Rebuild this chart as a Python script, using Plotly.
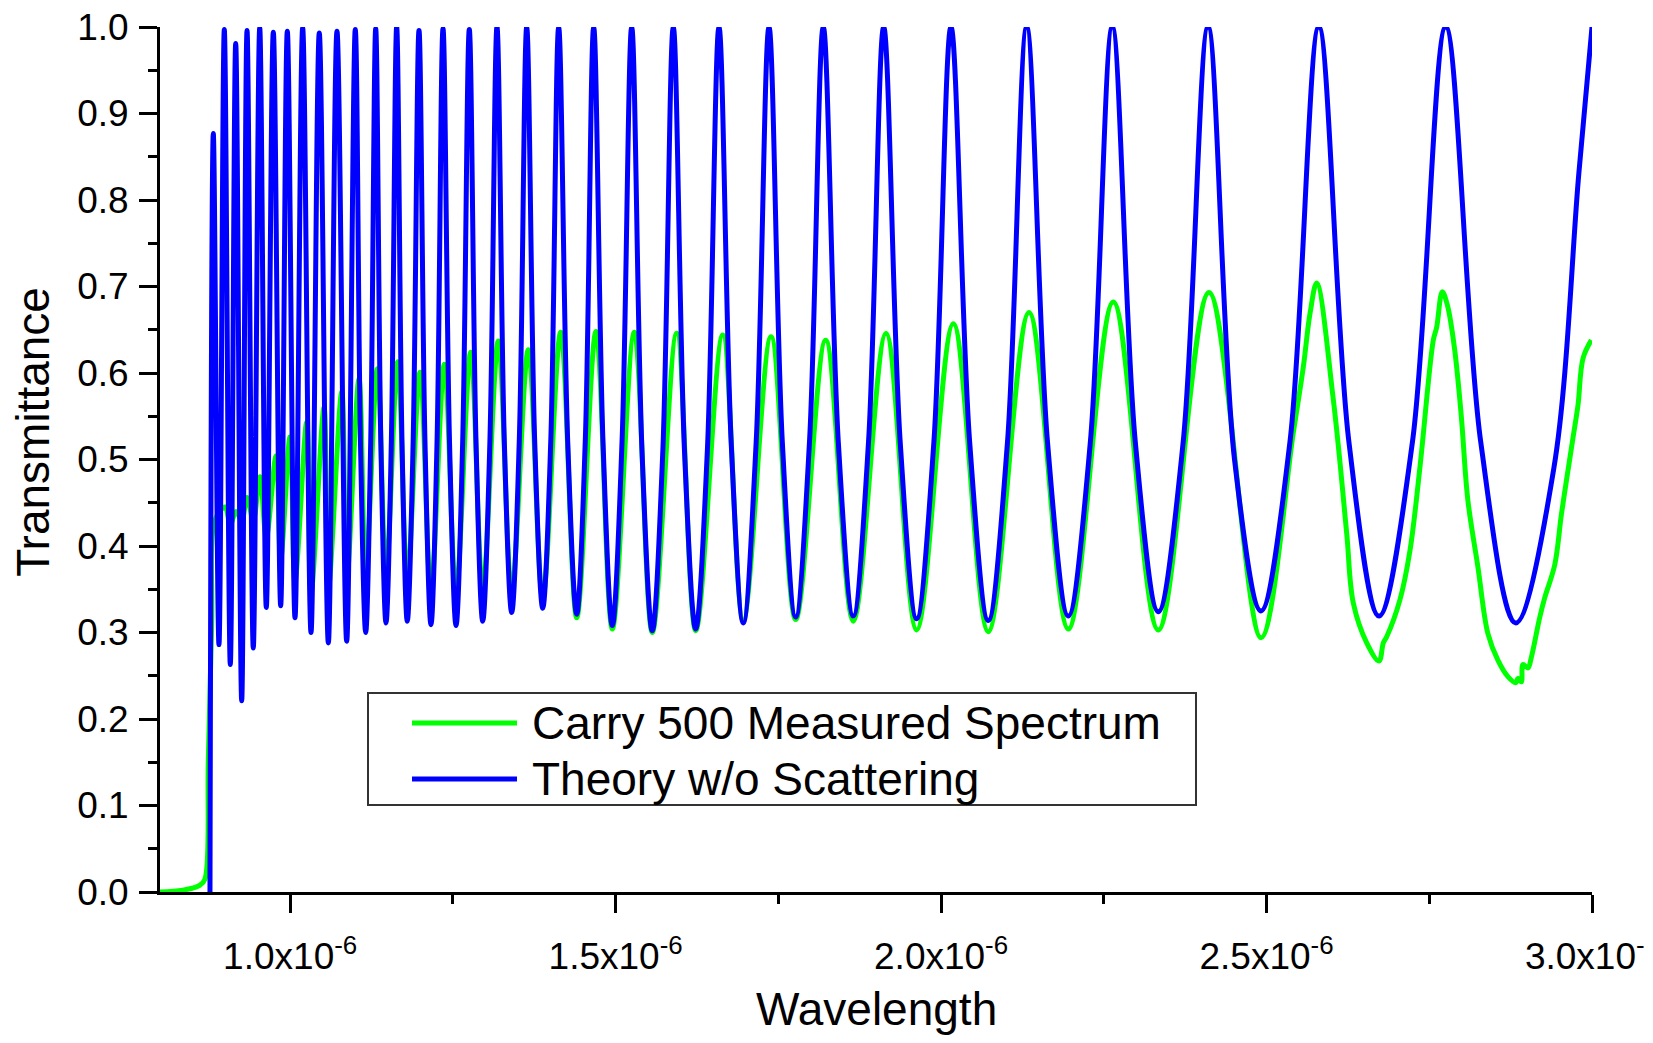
import plotly.graph_objects as go

# ---------------- data (wavelength in metres, transmittance 0..1) ----------------
measured_wavelength = [
    0.8000e-6, 0.8350e-6, 0.8615e-6, 0.8691e-6, 0.8742e-6, 0.8794e-6, 0.8845e-6,
    0.8999e-6, 0.9080e-6, 0.9168e-6, 0.9255e-6, 0.9337e-6, 0.9433e-6, 0.9536e-6,
    0.9633e-6, 0.9782e-6, 0.9854e-6, 0.9997e-6, 1.0074e-6, 1.0254e-6, 1.0320e-6,
    1.0520e-6, 1.0586e-6, 1.0792e-6, 1.0868e-6, 1.1057e-6, 1.1160e-6, 1.1339e-6,
    1.1472e-6, 1.1652e-6, 1.1799e-6, 1.1995e-6, 1.2163e-6, 1.2368e-6, 1.2548e-6,
    1.2773e-6, 1.2958e-6, 1.3197e-6, 1.3403e-6, 1.3658e-6, 1.3880e-6, 1.4156e-6,
    1.4402e-6, 1.4698e-6, 1.4949e-6, 1.5287e-6, 1.5563e-6, 1.5938e-6, 1.6230e-6,
    1.6645e-6, 1.6961e-6, 1.7387e-6, 1.7766e-6, 1.8227e-6, 1.8651e-6, 1.9154e-6,
    1.9625e-6, 2.0188e-6, 2.0725e-6, 2.1351e-6, 2.1955e-6, 2.2646e-6, 2.3337e-6,
    2.4116e-6, 2.4915e-6, 2.5411e-6, 2.5565e-6, 2.5668e-6, 2.5771e-6, 2.6026e-6,
    2.6231e-6, 2.6333e-6, 2.6539e-6, 2.6728e-6, 2.6794e-6, 2.6846e-6, 2.7050e-6,
    2.7204e-6, 2.7358e-6, 2.7562e-6, 2.7614e-6, 2.7700e-6, 2.7783e-6, 2.7890e-6,
    2.7992e-6, 2.8093e-6, 2.8247e-6, 2.8400e-6, 2.8554e-6, 2.8708e-6, 2.8828e-6,
    2.8862e-6, 2.8914e-6, 2.8939e-6, 2.9016e-6, 2.9067e-6, 2.9196e-6, 2.9273e-6,
    2.9427e-6, 2.9529e-6, 2.9606e-6, 2.9708e-6, 2.9785e-6, 2.9862e-6, 2.9990e-6,
]
measured_transmittance = [
    0.000, 0.002, 0.008, 0.015, 0.152, 0.310, 0.430,
    0.445, 0.425, 0.440, 0.430, 0.456, 0.430, 0.480,
    0.410, 0.504, 0.385, 0.526, 0.360, 0.543, 0.345,
    0.560, 0.350, 0.578, 0.360, 0.593, 0.370, 0.605,
    0.370, 0.613, 0.363, 0.601, 0.348, 0.610, 0.348,
    0.624, 0.350, 0.637, 0.348, 0.627, 0.340, 0.647,
    0.317, 0.648, 0.304, 0.647, 0.300, 0.646, 0.302,
    0.644, 0.314, 0.642, 0.315, 0.638, 0.313, 0.646,
    0.303, 0.657, 0.301, 0.670, 0.304, 0.682, 0.303,
    0.693, 0.294, 0.531, 0.607, 0.669, 0.704, 0.569,
    0.415, 0.334, 0.288, 0.267, 0.288, 0.295, 0.338,
    0.395, 0.492, 0.638, 0.653, 0.694, 0.677, 0.627,
    0.550, 0.453, 0.376, 0.299, 0.268, 0.249, 0.242,
    0.247, 0.243, 0.263, 0.259, 0.271, 0.317, 0.340,
    0.378, 0.436, 0.475, 0.525, 0.563, 0.617, 0.638,
]

theory_wavelength = [
    0.8768e-6, 0.8819e-6, 0.8906e-6, 0.8988e-6, 0.9080e-6, 0.9163e-6, 0.9255e-6,
    0.9337e-6, 0.9433e-6, 0.9532e-6, 0.9633e-6, 0.9741e-6, 0.9854e-6, 0.9956e-6,
    1.0074e-6, 1.0192e-6, 1.0320e-6, 1.0447e-6, 1.0586e-6, 1.0719e-6, 1.0868e-6,
    1.1000e-6, 1.1080e-6, 1.1160e-6, 1.1237e-6, 1.1314e-6, 1.1393e-6, 1.1472e-6,
    1.1554e-6, 1.1636e-6, 1.1718e-6, 1.1799e-6, 1.1889e-6, 1.1979e-6, 1.2071e-6,
    1.2163e-6, 1.2256e-6, 1.2348e-6, 1.2448e-6, 1.2548e-6, 1.2650e-6, 1.2752e-6,
    1.2855e-6, 1.2958e-6, 1.3068e-6, 1.3177e-6, 1.3290e-6, 1.3403e-6, 1.3519e-6,
    1.3634e-6, 1.3757e-6, 1.3880e-6, 1.4003e-6, 1.4125e-6, 1.4264e-6, 1.4402e-6,
    1.4533e-6, 1.4663e-6, 1.4806e-6, 1.4949e-6, 1.5098e-6, 1.5247e-6, 1.5405e-6,
    1.5563e-6, 1.5725e-6, 1.5886e-6, 1.6058e-6, 1.6230e-6, 1.6409e-6, 1.6588e-6,
    1.6775e-6, 1.6961e-6, 1.7159e-6, 1.7356e-6, 1.7561e-6, 1.7766e-6, 1.7978e-6,
    1.8190e-6, 1.8421e-6, 1.8651e-6, 1.8885e-6, 1.9118e-6, 1.9372e-6, 1.9625e-6,
    1.9889e-6, 2.0152e-6, 2.0439e-6, 2.0725e-6, 2.1020e-6, 2.1315e-6, 2.1635e-6,
    2.1955e-6, 2.2293e-6, 2.2630e-6, 2.2984e-6, 2.3337e-6, 2.3719e-6, 2.4101e-6,
    2.4508e-6, 2.4915e-6, 2.5359e-6, 2.5803e-6, 2.6266e-6, 2.6728e-6, 2.7241e-6,
    2.7753e-6, 2.8291e-6, 2.8828e-6, 2.9414e-6, 2.9797e-6, 3.0000e-6,
]
theory_transmittance = [
    0.000, 0.877, 0.286, 0.997, 0.263, 0.981, 0.221,
    0.996, 0.282, 0.999, 0.329, 0.994, 0.331, 0.995,
    0.317, 0.999, 0.300, 0.993, 0.288, 0.995, 0.290,
    0.997, 0.520, 0.300, 0.520, 0.998, 0.520, 0.311,
    0.520, 1.000, 0.520, 0.313, 0.520, 0.996, 0.520,
    0.309, 0.520, 0.998, 0.520, 0.308, 0.520, 0.997,
    0.520, 0.313, 0.520, 1.000, 0.520, 0.323, 0.520,
    1.000, 0.520, 0.328, 0.520, 1.000, 0.520, 0.321,
    0.520, 1.000, 0.520, 0.308, 0.520, 1.000, 0.510,
    0.302, 0.510, 1.000, 0.510, 0.304, 0.510, 1.000,
    0.520, 0.311, 0.520, 1.000, 0.520, 0.318, 0.520,
    1.000, 0.520, 0.319, 0.520, 1.000, 0.520, 0.316,
    0.520, 1.000, 0.520, 0.314, 0.520, 1.000, 0.520,
    0.319, 0.520, 1.000, 0.520, 0.324, 0.520, 1.000,
    0.500, 0.325, 0.520, 1.000, 0.520, 0.319, 0.520,
    1.000, 0.520, 0.311, 0.490, 0.830, 1.000,
]

series_names = ["Carry 500 Measured Spectrum", "Theory w/o Scattering"]
series_colors = ["#00FF00", "#0000FF"]

x_tick_values = [1.0e-6, 1.5e-6, 2.0e-6, 2.5e-6, 3.0e-6]
x_tick_labels = ["1.0x10<sup>-6</sup>", "1.5x10<sup>-6</sup>", "2.0x10<sup>-6</sup>",
                 "2.5x10<sup>-6</sup>", "3.0x10<sup>-6</sup>"]
x_minor_values = [1.25e-6, 1.75e-6, 2.25e-6, 2.75e-6]
x_title = "Wavelength"
y_title = "Transmittance"

FONT = "Liberation Sans, Arial, Helvetica, sans-serif"

fig = go.Figure()
fig.add_trace(go.Scatter(
    x=measured_wavelength, y=measured_transmittance, mode="lines",
    name=series_names[0], line=dict(color=series_colors[0], width=5, shape="spline", smoothing=1.0),
    showlegend=False,
))
fig.add_trace(go.Scatter(
    x=theory_wavelength, y=theory_transmittance, mode="lines",
    name=series_names[1], line=dict(color=series_colors[1], width=5, shape="spline", smoothing=1.0),
    showlegend=False,
))

axis_common = dict(
    showgrid=False, zeroline=False, showline=True, linecolor="black", linewidth=3,
    ticks="outside", ticklen=18, tickwidth=3, tickcolor="black",
    tickfont=dict(family=FONT, size=37, color="black"), mirror=False,
    automargin=False, ticklabeloverflow="allow",
)

fig.update_xaxes(
    range=[0.8e-6, 3.0e-6], tickmode="array", tickvals=x_tick_values, ticktext=x_tick_labels,
    minor=dict(tickmode="array", tickvals=x_minor_values, ticklen=9, tickwidth=3,
               tickcolor="black", ticks="outside"),
    ticklabelstandoff=12,
    **axis_common,
)
fig.update_yaxes(
    range=[0, 1.0], tickmode="linear", tick0=0, dtick=0.1, tickformat=".1f",
    minor=dict(dtick=0.05, ticklen=9, tickwidth=3, tickcolor="black", ticks="outside"),
    ticklabelstandoff=3,
    **axis_common,
)

# axis titles
fig.add_annotation(text=x_title, xref="paper", yref="paper", x=0.5, y=-0.135,
                   xanchor="center", yanchor="middle", showarrow=False,
                   font=dict(family=FONT, size=46, color="black"))
fig.add_annotation(text=y_title, xref="paper", yref="paper", x=-0.0887, y=0.532,
                   xanchor="center", yanchor="middle", showarrow=False, textangle=-90,
                   font=dict(family=FONT, size=46, color="black"))

# legend box (drawn to match the original's long line samples)
lg_x0, lg_x1, lg_y0, lg_y1 = 0.14525, 0.72346, 0.10058, 0.23006
fig.add_shape(type="rect", xref="paper", yref="paper", x0=lg_x0, x1=lg_x1, y0=lg_y0, y1=lg_y1,
              line=dict(color="#333333", width=2), fillcolor="rgba(255,255,255,0)")
legend_rows_y = [0.19538, 0.13064]
for name, color, ry in zip(series_names, series_colors, legend_rows_y):
    fig.add_shape(type="line", xref="paper", yref="paper", x0=0.17598, x1=0.24930, y0=ry, y1=ry,
                  line=dict(color=color, width=5))
    fig.add_annotation(text=name, xref="paper", yref="paper", x=0.25838, y=ry,
                       xanchor="left", yanchor="middle", showarrow=False,
                       font=dict(family=FONT, size=46, color="black"))

# the page body adds an 8 px margin, so the figure is sized to fit inside it
fig.update_layout(
    width=1637, height=1027,
    margin=dict(l=152, r=53, t=19, b=143, autoexpand=False),
    paper_bgcolor="white", plot_bgcolor="white",
    font=dict(family=FONT, color="black"),
)

fig.write_html("out.html")
